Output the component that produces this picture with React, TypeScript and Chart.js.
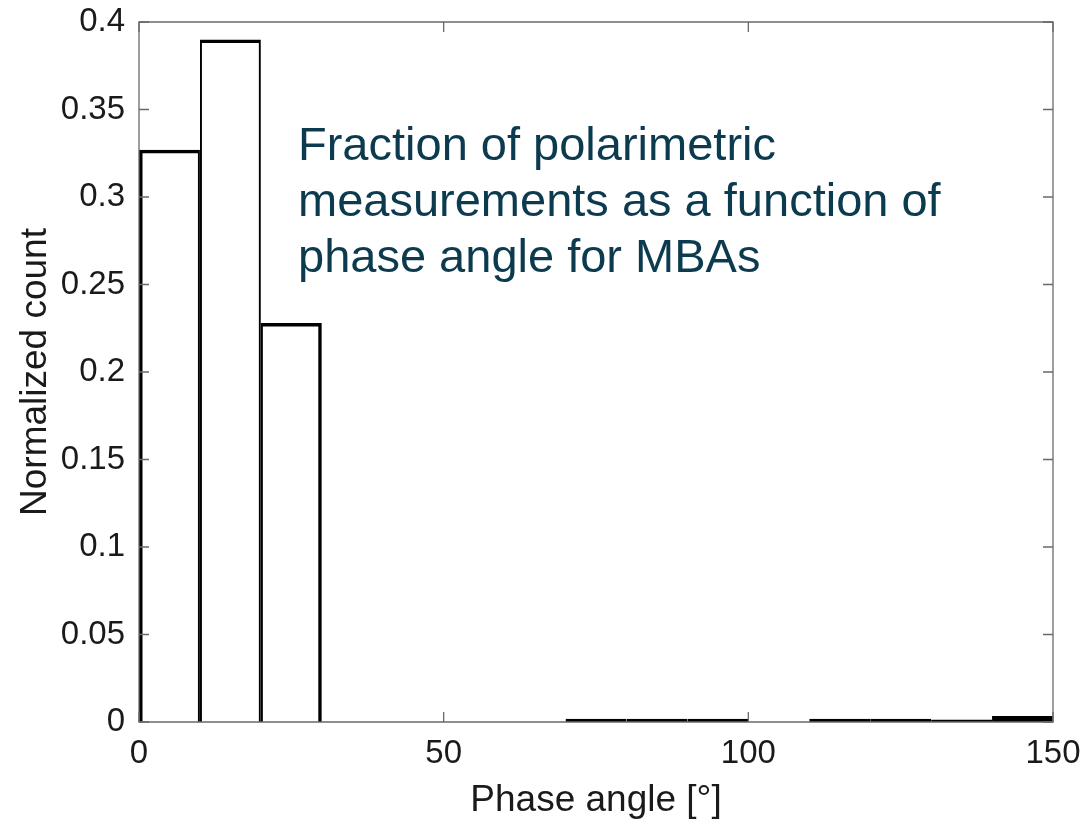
import React, { useEffect, useRef } from "react";
import { Chart, registerables } from "chart.js";

Chart.register(...registerables);

// Histogram bins (phase angle, degrees) and normalized counts
const binEdgesStart = [0, 10, 20, 30, 40, 50, 60, 70, 80, 90, 100, 110, 120, 130, 140];
const binWidth = 10;
const normalizedCounts = [0.327, 0.39, 0.228, 0, 0, 0, 0, 0.0018, 0.0018, 0.0018, 0, 0.0018, 0.0018, 0.0014, 0.0035];
const xTicks = [0, 50, 100, 150];
const yTickStep = 0.05;
const annotationLines = [
  "Fraction of polarimetric",
  "measurements as a function of",
  "phase angle for MBAs",
];

const FONT = "'Liberation Sans', Arial, Helvetica, sans-serif";

const boxTicksPlugin = {
  id: "boxTicks",
  afterDatasetsDraw(chart: any) {
    const { ctx, chartArea } = chart;
    const { left, right, top, bottom } = chartArea;
    const xs = chart.scales.x;
    const ys = chart.scales.y;
    const len = 10;
    ctx.save();
    ctx.strokeStyle = "#6a6a6a";
    ctx.lineWidth = 1.3;
    ctx.beginPath();
    ctx.rect(left, top, right - left, bottom - top);
    ctx.stroke();
    ctx.beginPath();
    xs.ticks.forEach((t: any) => {
      const px = xs.getPixelForValue(t.value);
      ctx.moveTo(px, bottom);
      ctx.lineTo(px, bottom - len);
      ctx.moveTo(px, top);
      ctx.lineTo(px, top + len);
    });
    ys.ticks.forEach((t: any) => {
      const py = ys.getPixelForValue(t.value);
      ctx.moveTo(left, py);
      ctx.lineTo(left + len, py);
      ctx.moveTo(right, py);
      ctx.lineTo(right - len, py);
    });
    ctx.stroke();
    ctx.restore();
  },
  afterDraw(chart: any) {
    const { ctx } = chart;
    ctx.save();
    ctx.fillStyle = "#0c3a4f";
    ctx.font = `47px ${FONT}`;
    ctx.textBaseline = "alphabetic";
    ctx.textAlign = "left";
    annotationLines.forEach((line, i) => {
      ctx.fillText(line, 298, 160 + i * 56);
    });
    ctx.restore();
  },
};

const hasBar = (i: number) => i >= 0 && i < normalizedCounts.length && normalizedCounts[i] > 0.01;

export default function App() {
  const ref = useRef<HTMLCanvasElement | null>(null);
  useEffect(() => {
    if (!ref.current) return;
    const data = binEdgesStart.map((s, i) => ({ x: s + binWidth / 2, y: normalizedCounts[i] }));
    const chart = new Chart(ref.current, {
      type: "bar",
      data: {
        datasets: [
          {
            data,
            backgroundColor: "rgba(0,0,0,0)",
            borderColor: "#000000",
            borderWidth: (c: any) => {
              const i = c.dataIndex;
              return {
                top: 3.5,
                left: hasBar(i - 1) ? 2 : 3.5,
                right: hasBar(i + 1) ? 2 : 3.5,
                bottom: 3,
              };
            },
            borderSkipped: (c: any) => (normalizedCounts[c.dataIndex] < 0.01 ? false : "start"),
            barPercentage: 1,
            categoryPercentage: 1,
            inflateAmount: 0,
          } as any,
        ],
      },
      options: {
        responsive: false,
        animation: false,
        layout: { padding: { top: 22, right: 31, left: 0, bottom: 0 } },
        plugins: { legend: { display: false }, tooltip: { enabled: false } },
        scales: {
          x: {
            type: "linear",
            min: 0,
            max: 150,
            offset: false,
            afterBuildTicks: (scale: any) => {
              scale.ticks = xTicks.map((v) => ({ value: v }));
            },
            afterFit: (scale: any) => {
              scale.height = 101;
              scale.paddingLeft = 0;
              scale.paddingRight = 0;
            },
            grid: { display: false, drawTicks: false },
            border: { display: false },
            ticks: {
              font: { family: FONT, size: 33 },
              color: "#1a1a1a",
              padding: 12,
              maxRotation: 0,
              autoSkip: false,
            },
            title: {
              display: true,
              text: "Phase angle [°]",
              font: { family: FONT, size: 37 },
              color: "#1a1a1a",
              padding: { top: 1, bottom: 0 },
            },
          },
          y: {
            min: 0,
            max: 0.4,
            afterFit: (scale: any) => {
              scale.width = 139;
              scale.paddingTop = 0;
              scale.paddingBottom = 0;
            },
            grid: { display: false, drawTicks: false },
            border: { display: false },
            ticks: {
              stepSize: yTickStep,
              font: { family: FONT, size: 33 },
              color: "#1a1a1a",
              padding: 14,
              callback: (v: any) => String(+Number(v).toFixed(2)),
            },
            title: {
              display: true,
              text: "Normalized count",
              font: { family: FONT, size: 37 },
              color: "#1a1a1a",
              padding: { top: 14, bottom: 0 },
            },
          },
        },
      },
      plugins: [boxTicksPlugin],
    });
    return () => chart.destroy();
  }, []);
  return (
    <canvas
      ref={ref}
      width={1084}
      height={823}
      style={{ position: "absolute", left: 0, top: 0, width: 1084, height: 823, display: "block", background: "#fff" }}
    />
  );
}
